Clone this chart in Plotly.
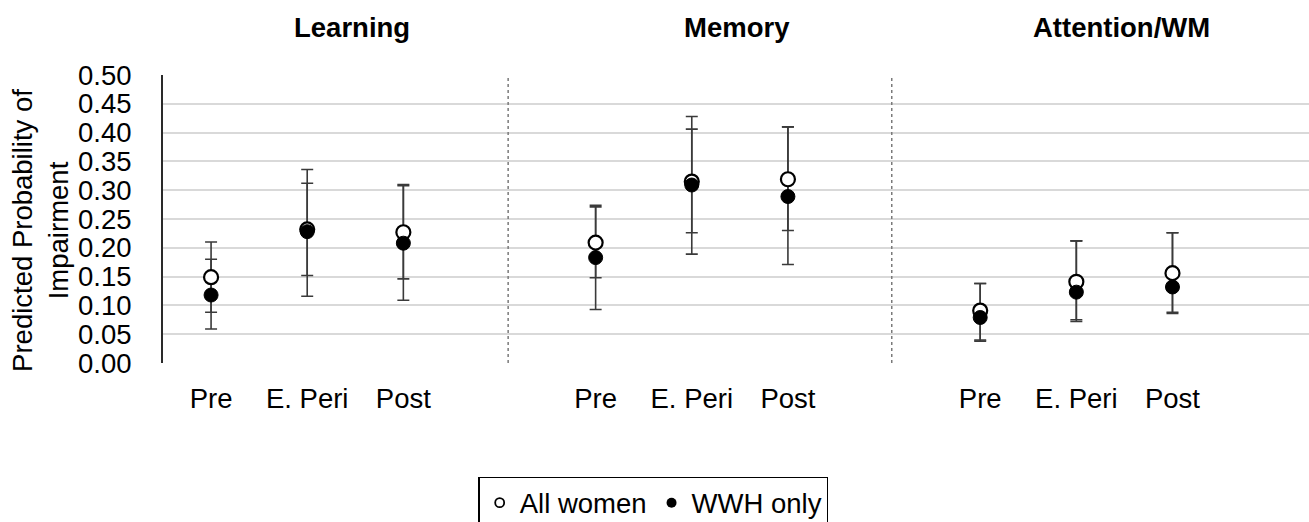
import plotly.graph_objects as go

# ---- data ----
domains = ["Learning", "Memory", "Attention/WM"]
stages = ["Pre", "E. Peri", "Post"]

all_women = [0.149, 0.232, 0.227, 0.209, 0.315, 0.319, 0.091, 0.141, 0.156]
all_lo = [0.088, 0.152, 0.146, 0.148, 0.226, 0.230, 0.040, 0.075, 0.088]
all_hi = [0.210, 0.312, 0.308, 0.271, 0.406, 0.410, 0.138, 0.212, 0.226]

wwh = [0.118, 0.228, 0.208, 0.183, 0.309, 0.289, 0.079, 0.123, 0.132]
wwh_lo = [0.059, 0.116, 0.109, 0.093, 0.189, 0.171, 0.038, 0.072, 0.086]
wwh_hi = [0.180, 0.336, 0.310, 0.274, 0.428, 0.410, 0.138, 0.212, 0.226]

y_ticks = [0.0, 0.05, 0.10, 0.15, 0.20, 0.25, 0.30, 0.35, 0.40, 0.45, 0.50]

# ---- positions ----
xs = [4 * g + c for g in range(len(domains)) for c in range(len(stages))]
tick_text = [s for _ in domains for s in stages]

FONT = "Liberation Sans, Arial, sans-serif"
FS = 27.5
ERR_COLOR = "#3a3a3a"

fig = go.Figure()

def err_trace(vals, lo, hi):
    return go.Scatter(
        x=xs, y=vals, mode="markers",
        marker=dict(size=1, color="rgba(0,0,0,0)"),
        error_y=dict(type="data", symmetric=False,
                     array=[h - v for v, h in zip(vals, hi)],
                     arrayminus=[v - l for v, l in zip(vals, lo)],
                     color=ERR_COLOR, thickness=1.6, width=6),
        showlegend=False, hoverinfo="skip")

fig.add_trace(err_trace(all_women, all_lo, all_hi))
fig.add_trace(err_trace(wwh, wwh_lo, wwh_hi))

fig.add_trace(go.Scatter(
    x=xs, y=all_women, mode="markers", name="All women",
    marker=dict(size=14, color="white", line=dict(color="black", width=2.2)),
    showlegend=False))
fig.add_trace(go.Scatter(
    x=xs, y=wwh, mode="markers", name="WWH only",
    marker=dict(size=14, color="black", line=dict(color="black", width=1)),
    showlegend=False))

# legend-only entries (small symbols)
fig.add_trace(go.Scatter(
    x=[None], y=[None], mode="markers", name="All women",
    marker=dict(size=9, color="white", line=dict(color="black", width=1.8))))
fig.add_trace(go.Scatter(
    x=[None], y=[None], mode="markers", name="WWH only",
    marker=dict(size=10, color="black")))

# panel dividers
for xd in [3.09, 7.08]:
    fig.add_shape(type="line", x0=xd, x1=xd, y0=0, y1=0.5, xref="x", yref="y",
                  line=dict(color="#7a7a7a", width=1.5, dash="dot"))

# panel titles
for g, d in enumerate(domains):
    fig.add_annotation(x=4 * g + 1.47, y=1.0, xref="x", yref="paper",
                       yanchor="middle", yshift=48, text=f"<b>{d}</b>", showarrow=False,
                       font=dict(family=FONT, size=FS, color="black"))

# y-axis title
fig.add_annotation(x=-0.107, y=0.46, xref="paper", yref="paper",
                   text="Predicted Probability of<br>Impairment",
                   textangle=-90, showarrow=False, xanchor="center", yanchor="middle",
                   font=dict(family=FONT, size=FS, color="black"))

fig.update_layout(
    width=1309, height=522,
    margin=dict(l=163, r=0, t=75, b=159, autoexpand=False),
    paper_bgcolor="white", plot_bgcolor="white",
    font=dict(family=FONT, size=FS, color="black"),
    legend=dict(orientation="h", x=0.428, xanchor="center",
                yref="container", y=0.086, yanchor="top",
                bordercolor="black", borderwidth=1.2, bgcolor="white",
                font=dict(family=FONT, size=FS, color="black"),
                itemwidth=30, tracegroupgap=0),
)

fig.update_xaxes(range=[-0.5, 11.42], tickvals=xs, ticktext=tick_text,
                 showgrid=False, zeroline=False, showline=False, automargin=False,
                 ticks="", ticklabelstandoff=16,
                 tickfont=dict(family=FONT, size=FS, color="black"))
fig.update_yaxes(range=[0, 0.5], tickvals=y_ticks, tickformat=".2f",
                 showgrid=True, gridcolor="#d9d9d9", gridwidth=2,
                 zeroline=False, showline=True, linecolor="#2a2a2a", linewidth=1.8,
                 automargin=False, ticks="", ticklabelstandoff=24,
                 tickfont=dict(family=FONT, size=FS, color="black"))

fig.write_html("out.html", config={"displayModeBar": False},
               post_script="document.body.style.margin='0';document.body.style.overflow='hidden';")
